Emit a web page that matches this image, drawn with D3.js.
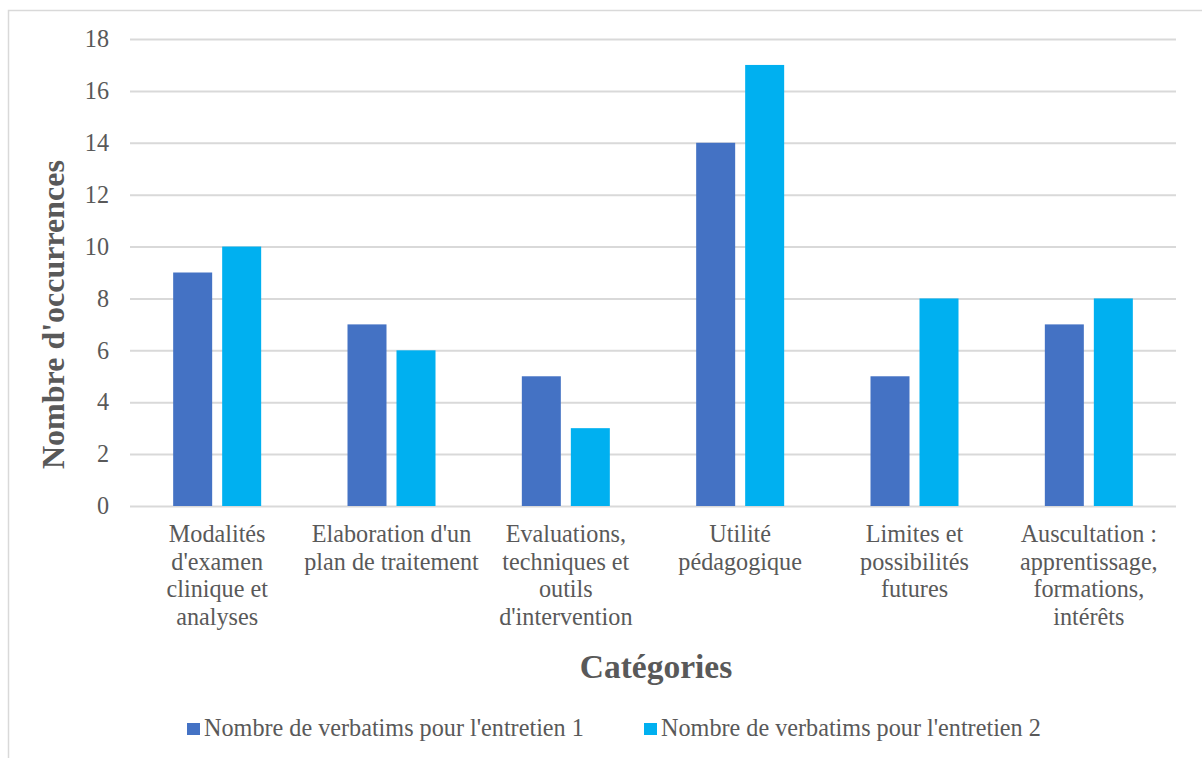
<!DOCTYPE html>
<html><head><meta charset="utf-8">
<script src="https://cdn.jsdelivr.net/npm/d3@7"></script>
<style>body{margin:0;background:#fff}svg{display:block}</style>
</head><body>
<svg id="c" width="1202" height="758"></svg>
<script>
const categories = [
  ["Modalités","d'examen","clinique et","analyses"],
  ["Elaboration d'un","plan de traitement"],
  ["Evaluations,","techniques et","outils","d'intervention"],
  ["Utilité","pédagogique"],
  ["Limites et","possibilités","futures"],
  ["Auscultation :","apprentissage,","formations,","intérêts"]
];
const series1 = [9,7,5,14,5,7];
const series2 = [10,6,3,17,8,8];
const seriesNames = ["Nombre de verbatims pour l'entretien 1","Nombre de verbatims pour l'entretien 2"];
const colors = ["#4472C4","#00B0F0"];
const yTicks = [0,2,4,6,8,10,12,14,16,18];

const svg = d3.select("#c");
const font = "Liberation Serif";
const fs = 24.2;
svg.append("rect").attr("x",8.5).attr("y",10.5).attr("width",1220).attr("height",800)
  .attr("fill","#fff").attr("stroke","#d9d9d9").attr("stroke-width",1.5);

const L=130,R=1176,T=39,B=506;
const y = d3.scaleLinear().domain([0,18]).range([B,T]);
const x0 = d3.scaleBand().domain(d3.range(categories.length)).range([L,R]);

const yAxis = svg.append("g").attr("transform",`translate(${L},0)`)
  .call(d3.axisLeft(y).tickValues(yTicks).tickSize(-(R-L)).tickPadding(21));
yAxis.attr("font-family",null).attr("font-size",null);
yAxis.select(".domain").remove();
yAxis.selectAll("line").attr("stroke","#d9d9d9").attr("stroke-width",2);
yAxis.selectAll("text").style("font-family",font).style("font-size",fs+"px").attr("fill","#595959");

const data = [series1,series2];
const g = svg.append("g");
categories.forEach((c,i)=>{
  const cx = x0(i)+x0.bandwidth()/2;
  [0,1].forEach(s=>{
    const bx = cx-44+s*49;
    g.append("rect").attr("x",bx).attr("width",39)
      .attr("y",y(data[s][i])).attr("height",y(0)-y(data[s][i]))
      .attr("fill",colors[s]);
  });
  const t = svg.append("text").style("font-family",font).style("font-size",fs+"px")
    .attr("fill","#595959").attr("text-anchor","middle");
  c.forEach((line,k)=>{
    t.append("tspan").attr("x",cx).attr("y",542+k*27.7).text(line);
  });
});

svg.append("text").attr("transform","translate(64,314.5) rotate(-90)")
  .attr("text-anchor","middle").style("font-family",font).style("font-size","32px")
  .attr("font-weight","bold").attr("fill","#595959").text("Nombre d'occurrences");
svg.append("text").attr("x",656).attr("y",678)
  .attr("text-anchor","middle").style("font-family",font).style("font-size","33.5px")
  .attr("font-weight","bold").attr("fill","#595959").text("Catégories");

const legX=[187,644];
seriesNames.forEach((n,i)=>{
  svg.append("rect").attr("x",legX[i]).attr("y",723).attr("width",13).attr("height",12).attr("fill",colors[i]);
  svg.append("text").attr("x",legX[i]+17).attr("y",736).style("font-family",font).style("font-size",fs+"px")
    .attr("fill","#595959").text(n);
});
</script>
</body></html>
